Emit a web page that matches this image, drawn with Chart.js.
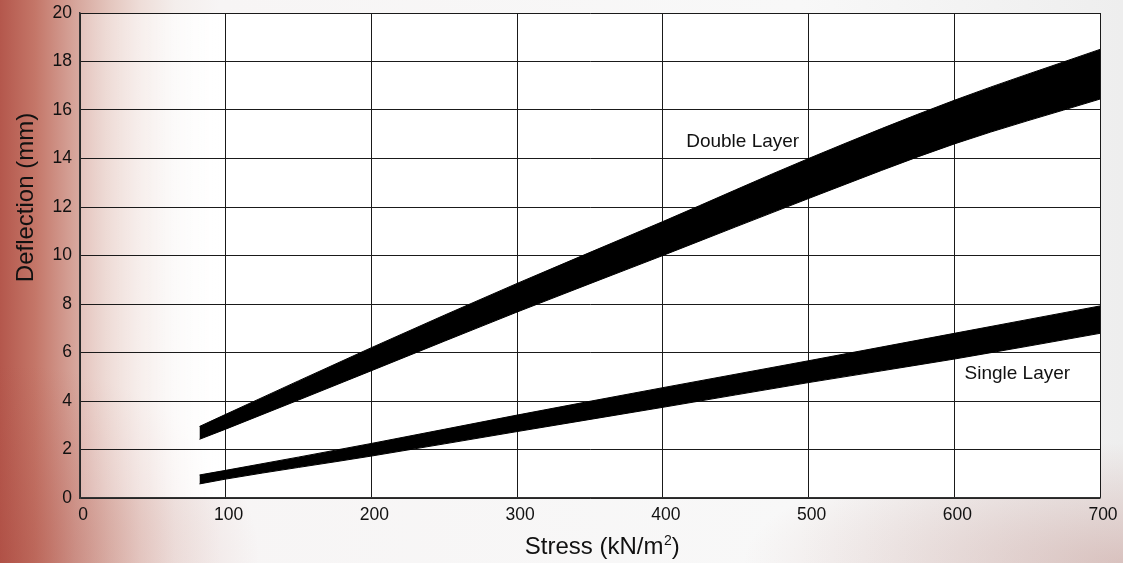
<!DOCTYPE html>
<html>
<head>
<meta charset="utf-8">
<script src="https://cdn.jsdelivr.net/npm/chart.js@4.4.1/dist/chart.umd.min.js"></script>
<style>
  html, body { margin: 0; padding: 0; }
  body {
    width: 1123px; height: 563px; overflow: hidden;
    background:
      radial-gradient(ellipse 380px 120px at 100% 100%, rgba(196,150,144,0.5), rgba(196,150,144,0) 100%),
      radial-gradient(ellipse 260px 200px at 0% 100%, rgba(170,70,60,0.35), rgba(170,70,60,0) 100%),
      linear-gradient(to right, #b4574c 0px, #c47668 35px, #d6a59b 75px, #e4c6be 110px, #eeddd8 140px, #f4eeec 175px, #f7f5f5 220px, #f8f8f8 800px, #eeeeee 1123px);
  }
  #wrap { position: absolute; left: 0; top: 0; width: 1123px; height: 563px; }
</style>
</head>
<body>
<div id="wrap"><canvas id="c" width="1123" height="563"></canvas></div>
<script>
const stress      = [82, 100, 200, 300, 400, 500, 600, 700];
const doubleUpper = [2.95, 3.45, 6.2, 8.85, 11.4, 14.0, 16.4, 18.5];
const doubleLower = [2.42, 2.84, 5.25, 7.67, 10.0, 12.35, 14.6, 16.45];
const singleUpper = [0.95, 1.14, 2.25, 3.42, 4.55, 5.66, 6.79, 7.92];
const singleLower = [0.58, 0.78, 1.73, 2.74, 3.74, 4.76, 5.73, 6.79];
const xTicks = [0, 100, 200, 300, 400, 500, 600, 700];
const yTicks = [0, 2, 4, 6, 8, 10, 12, 14, 16, 18, 20];
const bandLabels = [
  { text: 'Double Layer', x: 416, y: 14.49 },
  { text: 'Single Layer', x: 607, y: 4.9 }
];
const xTitle = ['Stress (kN/m', '2', ')'];
const yTitle = 'Deflection (mm)';

const FONT = '"Liberation Sans", Arial, sans-serif';
const pts = (ys) => stress.map((x, i) => ({ x: x, y: ys[i] }));

function band(ys, fill) {
  return {
    data: pts(ys),
    borderColor: '#000',
    backgroundColor: '#000',
    borderWidth: 1,
    pointRadius: 0,
    cubicInterpolationMode: 'monotone',
    fill: fill
  };
}

const plotBg = {
  id: 'plotBg',
  beforeDraw(chart) {
    const { ctx, chartArea: a } = chart;
    const g = ctx.createLinearGradient(a.left, 0, a.left + 140, 0);
    g.addColorStop(0, 'rgba(255,255,255,0.3)');
    g.addColorStop(0.5, 'rgba(255,255,255,0.55)');
    g.addColorStop(1, 'rgba(255,255,255,1)');
    ctx.save();
    ctx.fillStyle = g;
    ctx.fillRect(a.left, a.top, a.right - a.left, a.bottom - a.top);
    ctx.restore();
  }
};

const texts = {
  id: 'texts',
  afterDraw(chart) {
    const { ctx, chartArea: a, scales } = chart;
    ctx.save();
    ctx.fillStyle = '#111';
    ctx.font = '19px ' + FONT;
    ctx.textAlign = 'left';
    ctx.textBaseline = 'alphabetic';
    bandLabels.forEach(l => {
      ctx.fillText(l.text, scales.x.getPixelForValue(l.x), scales.y.getPixelForValue(l.y));
    });
    ctx.font = '24px ' + FONT;
    const w0 = ctx.measureText(xTitle[0]).width;
    const w2 = ctx.measureText(xTitle[2]).width;
    ctx.font = '14px ' + FONT;
    const w1 = ctx.measureText(xTitle[1]).width;
    const total = w0 + w1 + w2;
    const cx = (a.left + a.right) / 2 + 12;
    let x = cx - total / 2;
    const base = a.bottom + 56;
    ctx.font = '24px ' + FONT;
    ctx.fillText(xTitle[0], x, base); x += w0;
    ctx.font = '14px ' + FONT;
    ctx.fillText(xTitle[1], x + 0.5, base - 9); x += w1 + 0.5;
    ctx.font = '24px ' + FONT;
    ctx.fillText(xTitle[2], x, base);
    ctx.translate(33, (a.top + a.bottom) / 2 - 58);
    ctx.rotate(-Math.PI / 2);
    ctx.textAlign = 'center';
    ctx.fillText(yTitle, 0, 0);
    ctx.restore();
  }
};

new Chart(document.getElementById('c'), {
  type: 'line',
  data: {
    datasets: [
      band(doubleUpper, '+1'),
      band(doubleLower, false),
      band(singleUpper, '+1'),
      band(singleLower, false)
    ]
  },
  options: {
    responsive: false,
    animation: false,
    events: [],
    layout: { padding: { left: 0, right: 23, top: 13, bottom: 0 } },
    plugins: { legend: { display: false }, tooltip: { enabled: false } },
    scales: {
      x: {
        type: 'linear',
        min: 0, max: 700,
        afterBuildTicks: (s) => { s.ticks = xTicks.map(v => ({ value: v })); },
        afterFit: (s) => { s.height = 65; s.paddingLeft = 0; s.paddingRight = 0; },
        grid: { color: '#1a1a1a', lineWidth: 1, drawTicks: false },
        border: { color: '#333', width: 1.5 },
        ticks: { padding: 7, labelOffset: 3, color: '#111', font: { family: FONT, size: 17.5 }, maxRotation: 0 }
      },
      y: {
        type: 'linear',
        min: 0, max: 20,
        afterBuildTicks: (s) => { s.ticks = yTicks.map(v => ({ value: v })); },
        afterFit: (s) => { s.width = 80; s.paddingTop = 0; s.paddingBottom = 0; },
        grid: { color: '#1a1a1a', lineWidth: 1, drawTicks: false },
        border: { color: '#333', width: 1.5 },
        ticks: { padding: 8, color: '#111', font: { family: FONT, size: 17.5 } }
      }
    }
  },
  plugins: [plotBg, texts]
});
</script>
</body>
</html>
